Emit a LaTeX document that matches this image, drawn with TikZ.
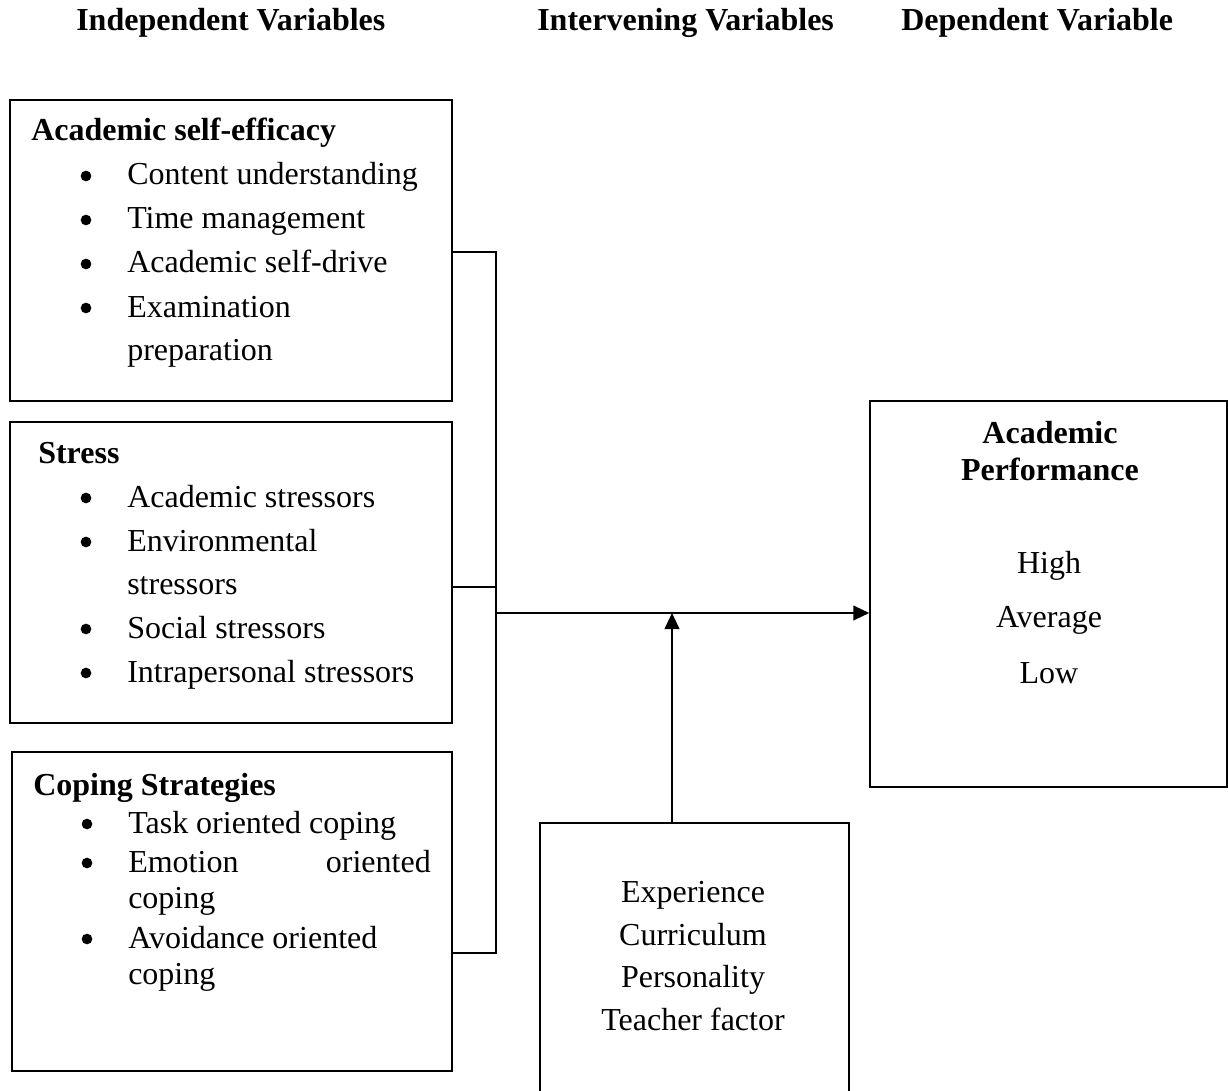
\documentclass[tikz,border=0pt]{standalone}
\usepackage{fontspec}
\setmainfont{Liberation Serif}
\usetikzlibrary{fit,arrows.meta}
\begin{document}
\begin{tikzpicture}[x=0.75pt,y=-0.75pt,
  box/.style={draw, line width=1.1pt, inner sep=0pt},
  txt/.style={anchor=base west, inner sep=0pt, font=\fontsize{24}{28}\selectfont},
  btxt/.style={anchor=base west, inner sep=0pt, font=\fontsize{24}{28}\selectfont\bfseries},
  ctxt/.style={anchor=base, inner sep=0pt, font=\fontsize{24}{28}\selectfont},
  cbtxt/.style={anchor=base, inner sep=0pt, font=\fontsize{24}{28}\selectfont\bfseries},
  dot/.style={circle, fill=black, inner sep=0pt, minimum size=8pt},
  conn/.style={line width=1.1pt},
  arr/.style={line width=1.5pt, -{Triangle[length=12pt,width=11pt]}}]
\useasboundingbox (0,0) rectangle (1228,1091);

% headers
\node[btxt] (h1) at (76,31) {Independent Variables};
\node[btxt] (h2) at (537,31) {Intervening Variables};
\node[btxt] (h3) at (901,31) {Dependent Variable};

% boxes
\node[box, fit={(10,100) (452,401)}] (b1) {};
\node[box, fit={(10,422) (452,723)}] (b2) {};
\node[box, fit={(12,752) (452,1071)}] (b3) {};
\node[box, fit={(870,401) (1227,787)}] (dv) {};
\node[box, fit={(540,823) (849,1110)}] (iv) {};

% box 1 text
\node[btxt] (t1) at (31,141) {Academic self-efficacy};
\node[dot] (u11) at (86,176) {};
\node[txt] (t11) at (127,185) {Content understanding};
\node[dot] (u12) at (86,220) {};
\node[txt] (t12) at (127,229) {Time management};
\node[dot] (u13) at (86,264) {};
\node[txt] (t13) at (127,273) {Academic self-drive};
\node[dot] (u14) at (86,308) {};
\node[txt] (t14) at (127,317) {Examination};
\node[txt] (t15) at (127,360) {preparation};

% box 2 text
\node[btxt] (t2) at (38,463) {Stress};
\node[dot] (u21) at (86,498) {};
\node[txt] (t21) at (127,507) {Academic stressors};
\node[dot] (u22) at (86,542) {};
\node[txt] (t22) at (127,551) {Environmental};
\node[txt] (t23) at (127,594) {stressors};
\node[dot] (u24) at (86,629) {};
\node[txt] (t24) at (127,638) {Social stressors};
\node[dot] (u25) at (86,673) {};
\node[txt] (t25) at (127,682) {Intrapersonal stressors};

% box 3 text
\node[btxt] (t3) at (33,795) {Coping Strategies};
\node[dot] (u31) at (87,824) {};
\node[txt] (t31) at (128,833) {Task oriented coping};
\node[dot] (u32) at (87,863) {};
\node[txt] (t32) at (128,872) {Emotion};
\node[anchor=base east, inner sep=0pt, font=\fontsize{24}{28}\selectfont] (t32b) at (431,872) {oriented};
\node[txt] (t33) at (128,908) {coping};
\node[dot] (u34) at (87,939) {};
\node[txt] (t34) at (128,948) {Avoidance oriented};
\node[txt] (t35) at (128,984) {coping};

% dependent variable text
\node[cbtxt] (d1) at (1050,443) {Academic};
\node[cbtxt] (d2) at (1050,480) {Performance};
\node[ctxt] (d3) at (1049,573) {High};
\node[ctxt] (d4) at (1049,627) {Average};
\node[ctxt] (d5) at (1049,683) {Low};

% intervening text
\node[ctxt] (i1) at (693,902) {Experience};
\node[ctxt] (i2) at (693,945) {Curriculum};
\node[ctxt] (i3) at (693,987) {Personality};
\node[ctxt] (i4) at (693,1030) {Teacher factor};

% connectors
\coordinate (j1) at (496,252);
\coordinate (j2) at (496,587);
\coordinate (j3) at (496,953);
\coordinate (jm) at (496,613);
\coordinate (ivtip) at (672,613);
\draw[conn] (b1.east |- j1) -- (j1) -- (j3) -- (b3.east |- j3);
\draw[conn] (b2.east |- j2) -- (j2);
\draw[arr] (jm) -- (dv.west |- jm);
\draw[arr] (iv.north -| ivtip) -- (ivtip);
\end{tikzpicture}
\end{document}
